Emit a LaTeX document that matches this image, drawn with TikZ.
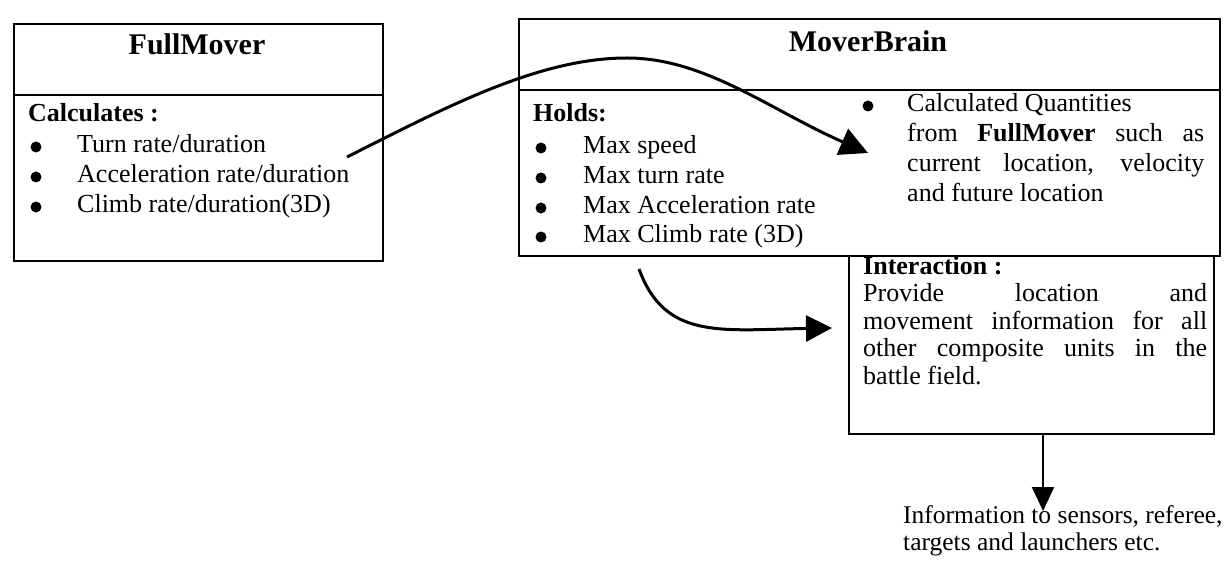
\documentclass[tikz,border=0pt]{standalone}
\usepackage{fontspec}
\setmainfont{Liberation Serif}
\usetikzlibrary{arrows.meta}
\begin{document}
\begin{tikzpicture}[x=1pt,y=-1pt,
  box/.style={draw,line width=1.8pt,inner sep=0pt},
  rule/.style={line width=1.8pt},
  txt/.style={anchor=mid west,inner sep=0pt,font=\fontsize{26}{30}\selectfont},
  btxt/.style={txt,font=\fontsize{26}{30}\selectfont\bfseries},
  otxt/.style={txt,font=\fontsize{25.5}{30}\selectfont},
  ttl/.style={inner sep=0pt,font=\fontsize{30}{34}\selectfont\bfseries},
  bul/.style={circle,fill,inner sep=0pt,minimum size=11pt},
  conn/.style={line width=3pt,-{Triangle[length=28pt,width=28pt]}},
  conns/.style={line width=3pt,-{Triangle[length=26pt,width=26pt]}},
  connv/.style={line width=2.2pt,-{Triangle[length=24pt,width=22pt]}},
]
\useasboundingbox (0,0) rectangle (1227,561);

% FullMover box
\node[box,anchor=north west,minimum width=369pt,minimum height=237pt] (fm) at (13,23) {};
\draw[rule] (13,95) -- (382,95);
\node[ttl] (fmt) at (197,44) {FullMover};
\node[btxt] (fmc) at (28,119) {Calculates :};
\node[bul] (fb1) at (36,147) {};
\node[bul] (fb2) at (36,177) {};
\node[bul] (fb3) at (36,207) {};
\node[txt] (ft1) at (77,150) {Turn rate/duration};
\node[txt] (ft2) at (77,180) {Acceleration rate/duration};
\node[txt] (ft3) at (77,210) {Climb rate/duration(3D)};

% MoverBrain box
\node[box,anchor=north west,minimum width=701pt,minimum height=237pt] (mb) at (518,18) {};
\draw[rule] (518,90) -- (1219,90);
\node[ttl] (mbt) at (868,41) {MoverBrain};
\node[btxt] (mbh) at (533,119) {Holds:};
\node[bul] (mb1) at (541,148) {};
\node[bul] (mb2) at (541,178) {};
\node[bul] (mb3) at (541,208) {};
\node[bul] (mb4) at (541,237) {};
\node[txt] (mt1) at (583,151) {Max speed};
\node[txt] (mt2) at (583,181) {Max turn rate};
\node[txt] (mt3) at (583,211) {Max Acceleration rate};
\node[txt] (mt4) at (583,240) {Max Climb rate (3D)};
\node[bul] (mb5) at (868,106) {};
\node[txt] (cq1) at (907,109) {Calculated Quantities};
\node[txt] (cq2) at (907,139) {\makebox[297pt][s]{from \textbf{FullMover} such as}};
\node[txt] (cq3) at (907,169) {\makebox[297pt][s]{current location, velocity}};
\node[txt] (cq4) at (907,199) {and future location};

% Interaction box
\node[box,anchor=north west,minimum width=365pt,minimum height=178pt] (ia) at (848,255) {};
\node[btxt] (iat) at (863,272) {Interaction :};
\node[txt] (ia1) at (863,299) {\makebox[344pt][s]{Provide location and}};
\node[txt] (ia2) at (863,327) {\makebox[344pt][s]{movement information for all}};
\node[txt] (ia3) at (863,354) {\makebox[344pt][s]{other composite units in the}};
\node[txt] (ia4) at (863,382) {battle field.};

% Output text
\node[otxt] (out1) at (903,521) {Information to sensors, referee,};
\node[otxt] (out2) at (903,548) {targets and launchers etc.};

% connectors
\coordinate (c1s) at (347,157);
\coordinate (c1e) at (868,153);
\draw[conn] (c1s) .. controls (450,105) and (540,58) .. (627,58)
  .. controls (705,58) and (770,110) .. (c1e);
\coordinate (c2s) at (639,269);
\coordinate (c2e) at (832,328);
\draw[conns] (c2s) .. controls (665,340) and (720,330) .. (c2e);
\coordinate (c3s) at (1043,433);
\coordinate (c3e) at (1043,511);
\draw[connv] (c3s) -- (c3e);
\end{tikzpicture}
\end{document}
